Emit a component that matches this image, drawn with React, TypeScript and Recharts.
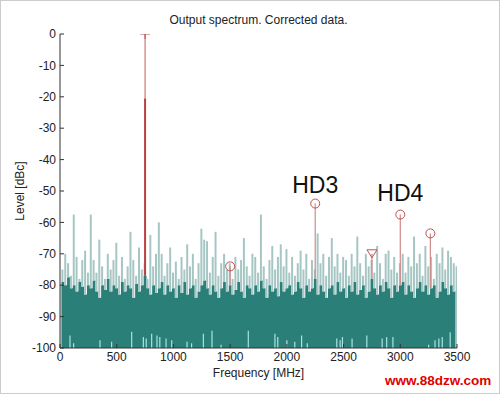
import React from "react"
import { Area, Bar, ComposedChart, ErrorBar, ReferenceDot, ReferenceLine, Scatter, XAxis, YAxis } from "recharts"

const FONT = "'Liberation Sans', Arial, sans-serif"

// spectrum bins, 25 MHz apart
const binWidth = 25

// corrected noise floor (dark teal), dBc
const noiseFloor = [
  -100, -79, -80, -77.5, -81, -80, -82, -79, -80.5, -83, -80, -81, -78.5, -82, -84, -80, -81.5, -78, -82, -80,
  -81, -83, -79, -82, -80, -81, -84, -79.5, -82, -80, -77, -81, -83, -80, -82.5, -81, -79, -83, -80, -82,
  -81, -84, -80, -82.5, -79, -83, -81, -80, -84, -82, -80, -78.5, -81, -83, -80, -82, -84, -81, -79, -82,
  -80, -83, -81.5, -79, -82, -84, -80, -81, -83, -80, -82, -78.5, -81, -84, -80, -82, -81, -83.5, -79, -82,
  -81, -80, -83, -82, -79, -81, -84, -80, -82, -81, -78, -83, -80, -82, -84, -81, -80, -83, -79, -82,
  -81, -84, -80, -82, -79, -83, -81.5, -80, -84, -82, -78, -81, -83, -80, -82, -79, -81, -84, -80, -82,
  -80, -79, -83, -80, -82, -84, -81, -79, -82, -80, -83, -81, -80, -84, -82, -79, -81, -83, -80, -82,
  -100,
]

// uncorrected peaks (light), dBc
const rawPeaks = [
  -80, -75, -70, -73, -77, -57.5, -71, -78, -72, -69, -76, -57.5, -72, -76, -65.5, -74, -78, -70, -75, -72,
  -66.5, -77, -71, -78, -74, -63, -72, -77, -68, -75, -73, -78, -64, -74, -70, -60, -70, -77, -73, -68,
  -76, -72.5, -78, -71, -75, -67, -74, -70, -78, -73, -62, -65.5, -66, -76, -71, -63, -77, -73, -70, -75,
  -73, -78, -71, -75, -72, -65, -74, -77, -70, -71, -76, -57.5, -74, -78, -72, -67.5, -75, -71, -67, -74,
  -68.5, -76, -71, -77, -73, -69, -75, -70, -78, -72, -75, -63.5, -73, -70, -77, -71, -65, -74, -70, -76,
  -71, -72, -77, -70, -74, -64.5, -73, -77, -70, -74, -72, -76, -67.5, -73, -78, -70, -69, -75, -71, -76,
  -73, -70, -76, -71, -74, -64.5, -73, -70, -77, -67.5, -74, -71, -78, -70, -73, -68, -75, -69, -71, -73,
  -74,
]

// short spurs rising from the bottom of the plot
const lowSpurFreqs = [
  88, 120, 353, 455, 632, 735, 760, 808, 855, 880, 935, 985, 1120, 1160, 1264, 1340, 1420, 1660, 1895, 1920,
  2000, 2070, 2130, 2180, 2440, 2470, 2490, 2575, 2705, 2840, 2880, 2935, 3250, 3306, 3340, 3370, 3440,
]
const lowSpurLevels = [
  -96, -98.5, -97.5, -98, -94.8, -96.5, -97, -95.5, -96, -96.5, -97, -97.5, -98, -98.5, -95.5, -94.5, -99, -94.5,
  -95.5, -96.5, -97.5, -98, -96, -98.5, -97, -97.5, -96.5, -97, -96, -97, -96.5, -96.5, -99, -97.5, -97, -96.5, -95,
]

// fundamental, harmonics and spur
const toneNames = ["Fund", "HD2", "HD3", "HD4", "HD5", "Spur"]
const toneFreqs = [750, 1500, 2250, 3000, 3265, 2750]
const toneLevels = [0, -74, -54, -57.5, -63.5, -70]
const fundUncorrected = -20.5

const noteTexts = ["HD3", "HD4"]
const noteFreqs = [2250, 3000]
const noteLevels = [-48, -50.5]

const xTicks = [0, 500, 1000, 1500, 2000, 2500, 3000, 3500]
const yTicks = [0, -10, -20, -30, -40, -50, -60, -70, -80, -90, -100]
const yMin = -100
const xDomain = [0, 3500]

const spectrum = noiseFloor.map((floor, i) => ({
  freq: i * binWidth,
  floor,
  raw: [floor, rawPeaks[i]],
}))

const lowSpurs = lowSpurFreqs.map((freq, i) => ({
  freq,
  level: lowSpurLevels[i],
  err: [lowSpurLevels[i] - yMin, 0],
}))

const tones = toneNames.map((name, i) => ({ name, freq: toneFreqs[i], level: toneLevels[i] }))

const floorAt = (f: number) => noiseFloor[Math.round(f / binWidth)]

const RED = "#c0504f"

function ToneMarker(props: any) {
  const { cx, cy, payload } = props
  if (cx == null || cy == null) return null
  if (payload.name === "Fund") {
    return (
      <g stroke={RED} strokeWidth={1}>
        <line x1={cx - 5} y1={cy} x2={cx + 5} y2={cy} />
        <line x1={cx} y1={cy - 5} x2={cx} y2={cy + 5} />
      </g>
    )
  }
  if (payload.name === "Spur") {
    return <path d={`M${cx - 5},${cy - 4}L${cx + 5},${cy - 4}L${cx},${cy + 4}Z`} fill="none" stroke={RED} strokeWidth={1} />
  }
  return <circle cx={cx} cy={cy} r={4.5} fill="none" stroke={RED} strokeWidth={1} />
}

const NoMarker = () => null

export default function App() {
  const tickStyle = { fontSize: 12, fill: "#222", fontFamily: FONT }
  return (
    <div style={{ position: "absolute", left: 0, top: 0, width: 500, height: 394, background: "#fff", fontFamily: FONT }}>
      <ComposedChart width={500} height={394} data={spectrum} margin={{ top: 34, right: 43, bottom: 0, left: 0 }}>
        <XAxis
          type="number"
          dataKey="freq"
          domain={xDomain}
          ticks={xTicks}
          interval={0}
          allowDataOverflow
          height={46}
          tickSize={-4}
          tickMargin={8}
          tick={tickStyle}
          axisLine={{ stroke: "#333" }}
          tickLine={{ stroke: "#333" }}
        />
        {/* same scale, kept apart so the marks on it don't shrink the bar width */}
        <XAxis xAxisId="aux" type="number" dataKey="freq" domain={xDomain} allowDataOverflow hide />
        <YAxis
          type="number"
          domain={[yMin, 0]}
          ticks={yTicks}
          interval={0}
          allowDataOverflow
          width={60}
          tickSize={-4}
          tickMargin={8}
          tick={tickStyle}
          axisLine={{ stroke: "#333" }}
          tickLine={{ stroke: "#333" }}
        />
        <Area
          type="step"
          dataKey="floor"
          baseValue={yMin}
          stroke="none"
          fill="#2a7f79"
          fillOpacity={1}
          dot={false}
          activeDot={false}
          isAnimationActive={false}
        />
        <Bar dataKey="raw" fill="#a6c6c4" barSize={2} isAnimationActive={false} />
        <Scatter xAxisId="aux" data={lowSpurs} dataKey="level" shape={NoMarker} isAnimationActive={false}>
          <ErrorBar dataKey="err" direction="y" width={0} stroke="#a8e4e0" strokeWidth={1.2} />
        </Scatter>
        {tones.map((t) =>
          t.name === "Fund" ? (
            <React.Fragment key={t.name}>
              <ReferenceLine
                xAxisId="aux"
                segment={[
                  { x: t.freq, y: floorAt(t.freq) },
                  { x: t.freq, y: fundUncorrected },
                ]}
                stroke="#b8403f"
                strokeWidth={2}
              />
              <ReferenceLine
                xAxisId="aux"
                segment={[
                  { x: t.freq, y: fundUncorrected },
                  { x: t.freq, y: t.level },
                ]}
                stroke="#c45a58"
                strokeWidth={1}
              />
            </React.Fragment>
          ) : (
            <ReferenceLine
              key={t.name}
              xAxisId="aux"
              segment={[
                { x: t.freq, y: floorAt(t.freq) },
                { x: t.freq, y: t.level },
              ]}
              stroke="#cf8a88"
              strokeWidth={1.2}
            />
          )
        )}
        <Scatter xAxisId="aux" data={tones} dataKey="level" shape={ToneMarker} isAnimationActive={false} />
        {noteTexts.map((text, i) => (
          <ReferenceDot
            key={text}
            xAxisId="aux"
            x={noteFreqs[i]}
            y={noteLevels[i]}
            r={1}
            fill="none"
            stroke="none"
            label={{ value: text, position: "center", fontSize: 23, fill: "#111", fontFamily: FONT }}
          />
        ))}
      </ComposedChart>
      <div style={{ position: "absolute", left: 60, top: 13, width: 397, textAlign: "center", fontSize: 12, lineHeight: "14px", color: "#222" }}>
        Output spectrum. Corrected data.
      </div>
      <div
        style={{
          position: "absolute",
          left: 20,
          top: 191,
          transform: "translate(-50%, -50%) rotate(-90deg)",
          fontSize: 12,
          lineHeight: "14px",
          whiteSpace: "nowrap",
          color: "#222",
        }}
      >
        Level [dBc]
      </div>
      <div style={{ position: "absolute", left: 60, top: 366, width: 397, textAlign: "center", fontSize: 12, lineHeight: "14px", color: "#222" }}>
        Frequency [MHz]
      </div>
      <div style={{ position: "absolute", left: 385, top: 373, fontSize: 13.5, fontWeight: "bold", lineHeight: "16px", color: "#e00000", whiteSpace: "nowrap" }}>
        www.88dzw.com
      </div>
      <div style={{ position: "absolute", inset: 0, border: "1px solid #cccccc", pointerEvents: "none" }} />
    </div>
  )
}
